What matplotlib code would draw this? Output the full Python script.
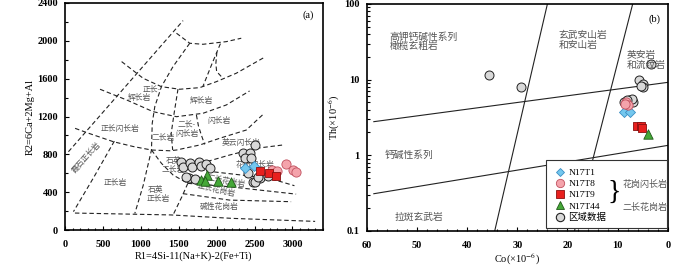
import numpy as np
import matplotlib
matplotlib.use("Agg")
import matplotlib.pyplot as plt
from matplotlib.lines import Line2D
from matplotlib.patches import Rectangle
from matplotlib.ticker import MultipleLocator

plt.rcParams['font.family'] = ['Liberation Serif', 'Noto Sans CJK SC']
plt.rcParams['mathtext.fontset'] = 'stix'

# ---- panel (a): R1-R2 data ----
grey_r1 = [1535, 1557, 1645, 1680, 1768, 1798, 1864, 1908, 1640, 1720, 1590, 2500, 2346, 2434, 2368, 2456,
           2412, 2478, 2566, 2500, 2675, 2540]
grey_r2 = [722, 669, 705, 669, 722, 677, 698, 652, 548, 535, 560, 900, 811, 817, 758, 758,
           600, 512, 547, 511, 575, 560]
t1_r1 = [2380, 2490]
t1_r2 = [660, 676]
t8_r1 = [2732, 2798, 2917, 3004, 3048]
t8_r2 = [634, 627, 694, 634, 616]
t9_r1 = [2566, 2688, 2785]
t9_r2 = [623, 599, 575]
t44_r1 = [1878, 1799, 1842, 2017, 2184]
t44_r2 = [581, 528, 518, 518, 504]

# field boundaries of the R1-R2 diagram (R1, R2)
bounds = [
    ([44, 1557], [828, 2213]),
    ([132, 307, 636, 899, 1140, 1382, 1470, 1777, 2040, 2391, 2610],
     [1075, 1024, 934, 883, 846, 838, 846, 899, 970, 1057, 1220]),
    ([461, 812, 1162, 1470, 1820, 2128, 2435], [1488, 1375, 1251, 1198, 1234, 1322, 1470]),
    ([746, 1030, 1272, 1513, 1777, 1996, 2259, 2632], [1780, 1604, 1515, 1488, 1505, 1568, 1657, 1826]),
    ([1470, 1645, 1820, 2128, 2325], [2080, 1974, 1963, 1991, 2027]),
    ([1645, 1425, 1272, 1184, 1150, 1140, 1030, 920], [1974, 1728, 1517, 1305, 1128, 846, 470, 176]),
    ([1490, 1440, 1400, 1420], [1490, 1240, 1020, 846]),
    ([2050, 1940, 1820], [1970, 1760, 1520]),
    ([2003, 1990, 2000, 2070], [1880, 1760, 1675, 1615]),
    ([1733, 1760, 1800, 1842], [1216, 1100, 1000, 905]),
    ([650, 380, 110], [940, 560, 195]),
    ([1140, 1272, 1425, 1620], [846, 705, 582, 494]),
    ([1620, 2171, 3049], [494, 458, 380]),
    ([1780, 1952, 2400, 2698, 3027], [640, 616, 575, 547, 469]),
    ([1700, 1864, 2171, 2522, 2873], [670, 722, 793, 864, 899]),
    ([1555, 2171, 2983], [385, 317, 300]),
    ([1620, 1540, 1425], [494, 350, 160]),
    ([130, 1400, 2200, 3300], [180, 160, 124, 92]),
]

# ---- panel (b): Co-Th data ----
grey_co = [35.6, 29.2, 3.25, 5.7, 4.9, 5.0, 5.3, 7.7, 6.9, 8.7, 7.2, 8.2]
grey_th = [11.5, 7.9, 16.1, 9.9, 8.7, 7.9, 8.3, 5.4, 5.0, 5.1, 5.5, 5.3]
t1_co = [8.8, 7.6]
t1_th = [3.7, 3.75]
t8_co = [8.3, 7.9, 8.6]
t8_th = [5.0, 4.6, 4.8]
t9_co = [6.1, 5.4, 5.2]
t9_th = [2.4, 2.4, 2.3]
t44_co = [3.9]
t44_th = [1.9]

co_lines = [([24, 34.5], [100, 0.1]),
            ([7.0, 18.6], [100, 0.1]),
            ([58.6, 0], [2.78, 9.2]),
            ([58.6, 0], [0.31, 1.35])]

grey_style = dict(marker='o', s=42, facecolor='#d9d9d9', edgecolor='#222222', linewidth=0.7)
t1_style = dict(marker='D', s=26, facecolor='#74c7ee', edgecolor='#3b8fc4', linewidth=0.6)
t8_style = dict(marker='o', s=44, facecolor='#f4a3ab', edgecolor='#c0505e', linewidth=0.6)
t9_style = dict(marker='s', s=40, facecolor='#e8201e', edgecolor='#8a1010', linewidth=0.6)
t44_style = dict(marker='^', s=46, facecolor='#45a838', edgecolor='#1f5a18', linewidth=0.6)

cjk = ['Noto Sans CJK SC']
lab_col = '#555555'

fig = plt.figure(figsize=(7, 2.66), dpi=100)
ax1 = fig.add_axes([0.093, 0.135, 0.368, 0.854])
ax2 = fig.add_axes([0.524, 0.132, 0.430, 0.853])

# ---------- (a) ----------
for bx, by in bounds:
    ax1.plot(bx, by, color='#222222', lw=0.8, ls=(0, (4, 2.5)), zorder=1)

ax1.scatter(grey_r1, grey_r2, zorder=3, **grey_style)
ax1.scatter(t1_r1, t1_r2, zorder=4, **t1_style)
ax1.scatter(t8_r1, t8_r2, zorder=4, **t8_style)
ax1.scatter(t9_r1, t9_r2, zorder=4, **t9_style)
ax1.scatter(t44_r1, t44_r2, zorder=4, **t44_style)

labels_a = [
    (1149, 1490, '正长-', 0), (985, 1394, '辉长岩', 0), (1798, 1359, '辉长岩', 0),
    (1600, 1120, '二长-', 0), (1610, 1020, '闪长岩', 0), (2030, 1150, '闪长岩', 0),
    (720, 1070, '正长闪长岩', 0), (1300, 975, '二长岩', 0), (2325, 925, '英云闪长岩', 0),
    (1430, 730, '石英', 0), (1430, 640, '二长岩', 0), (2500, 690, '花岗闪长岩', 0),
    (2128, 511, '二长花岗岩', -10), (1993, 423, '正长花岗岩', -12), (2027, 240, '碱性花岗岩', 0),
    (1200, 420, '石英', 0), (1230, 330, '正长岩', 0), (658, 501, '正长岩', 0),
    (276, 770, '霞石正长岩', 48),
]
for x, y, s, r in labels_a:
    ax1.text(x, y, s, family=cjk, fontsize=5.6, color=lab_col, ha='center', va='center',
             rotation=r, zorder=2)
ax1.text(3210, 2270, '(a)', fontsize=7.5, ha='center', va='center')

ax1.set_xlim(0, 3400)
ax1.set_ylim(0, 2400)
ax1.set_xticks([0, 500, 1000, 1500, 2000, 2500, 3000])
ax1.set_yticks([0, 400, 800, 1200, 1600, 2000, 2400])
ax1.xaxis.set_minor_locator(MultipleLocator(100))
ax1.yaxis.set_minor_locator(MultipleLocator(200))
ax1.set_xlabel('R1=4Si-11(Na+K)-2(Fe+Ti)', fontsize=7.5, labelpad=2)
ax1.set_ylabel('R2=6Ca+2Mg+Al', fontsize=7.5, labelpad=2)

# ---------- (b) ----------
for lx, ly in co_lines:
    ax2.plot(lx, ly, color='#222222', lw=0.8, zorder=1)

ax2.scatter(grey_co, grey_th, zorder=3, **grey_style)
ax2.scatter(t1_co, t1_th, zorder=4, **t1_style)
ax2.scatter(t8_co, t8_th, zorder=4, **t8_style)
ax2.scatter(t9_co, t9_th, zorder=4, **t9_style)
ax2.scatter(t44_co, t44_th, zorder=4, **t44_style)

labels_b = [
    (55.5, 32, '高钾钙碱性系列\n橄榄玄粗岩'), (21.8, 33, '玄武安山岩\n和安山岩'),
    (8.2, 18, '英安岩\n和流纹岩'), (56.5, 1.0, '钙碱性系列'), (54.5, 0.155, '拉斑玄武岩'),
]
for x, y, s in labels_b:
    ax2.text(x, y, s, family=cjk, fontsize=7, color=lab_col, ha='left', va='center',
             linespacing=1.0)
ax2.text(0.955, 0.935, '(b)', transform=ax2.transAxes, fontsize=7.5, ha='center', va='center')

ax2.set_xlim(60, 0)
ax2.set_yscale('log')
ax2.set_ylim(0.1, 100)
ax2.set_xticks([60, 50, 40, 30, 20, 10, 0])
ax2.xaxis.set_minor_locator(MultipleLocator(2))
ax2.set_yticks([0.1, 1, 10, 100])
ax2.set_yticklabels(['0.1', '1', '10', '100'])
ax2.set_xlabel('Co(×10$^{-6}$)', fontsize=7.5, labelpad=2)
ax2.set_ylabel('Th(×10$^{-6}$)', fontsize=7.5, labelpad=2)

# legend
ax2.add_patch(Rectangle((0.595, 0.012), 0.401, 0.301, transform=ax2.transAxes,
                        facecolor='white', edgecolor='#333333', lw=0.8, zorder=5))
handles = [
    Line2D([], [], ls='none', marker='D', ms=4.5, mfc='#74c7ee', mec='#3b8fc4', mew=0.6),
    Line2D([], [], ls='none', marker='o', ms=6, mfc='#f4a3ab', mec='#c0505e', mew=0.6),
    Line2D([], [], ls='none', marker='s', ms=5.5, mfc='#e8201e', mec='#8a1010', mew=0.6),
    Line2D([], [], ls='none', marker='^', ms=6, mfc='#45a838', mec='#1f5a18', mew=0.6),
    Line2D([], [], ls='none', marker='o', ms=6, mfc='#d9d9d9', mec='#222222', mew=0.8),
]
leg_names = ['N17T1', 'N17T8', 'N17T9', 'N17T44', '区域数据']
leg = ax2.legend(handles, leg_names, loc='upper left', bbox_to_anchor=(0.6, 0.305),
                 frameon=False, fontsize=6.8, handletextpad=0.3, labelspacing=0.28,
                 borderpad=0.2, handlelength=1.2)
leg.set_zorder(6)
for t in leg.get_texts():
    t.set_family(['Liberation Serif', 'Noto Sans CJK SC'])
ax2.text(0.82, 0.17, '}', transform=ax2.transAxes, fontsize=20, ha='center', va='center',
         zorder=7, fontweight='light')
ax2.text(0.925, 0.205, '花岗闪长岩', transform=ax2.transAxes, family=cjk, fontsize=6.5,
         color=lab_col, ha='center', va='center', zorder=7)
ax2.text(0.925, 0.105, '二长花岗岩', transform=ax2.transAxes, family=cjk, fontsize=6.5,
         color=lab_col, ha='center', va='center', zorder=7)

for ax in (ax1, ax2):
    ax.tick_params(which='both', direction='in', labelsize=7.5, width=0.8)
    ax.tick_params(which='major', length=3)
    ax.tick_params(which='minor', length=1.8)
    ax.tick_params(axis='x', which='major', pad=7)
    ax.tick_params(axis='y', which='major', pad=5)
    for sp in ax.spines.values():
        sp.set_linewidth(1.2)
    for lbl in ax.get_xticklabels() + ax.get_yticklabels():
        lbl.set_fontweight('bold')

fig.savefig('out.png', dpi=100)
